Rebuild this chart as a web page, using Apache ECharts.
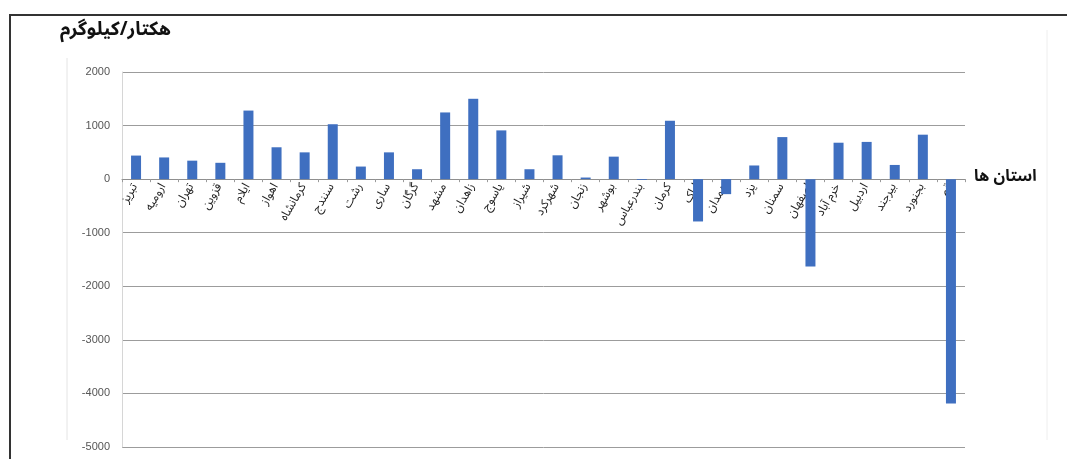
<!DOCTYPE html>
<html>
<head>
<meta charset="utf-8">
<script src="https://cdn.jsdelivr.net/npm/echarts@6/dist/echarts.min.js"></script>
<style>
  html, body { margin: 0; padding: 0; background: #fff; }
  #main { width: 1067px; height: 459px; }
</style>
</head>
<body>
<div id="main"></div>
<script>
// استان ها (categories)
const cities = ['تبریز', 'ارومیه', 'تهران', 'قزوین', 'ایلام', 'اهواز', 'کرمانشاه', 'سنندج', 'رشت', 'ساری',
    'گرگان', 'مشهد', 'زاهدان', 'یاسوج', 'شیراز', 'شهرکرد', 'زنجان', 'بوشهر', 'بندرعباس', 'کرمان',
    'اراک', 'همدان', 'یزد', 'سمنان', 'اصفهان', 'خرم آباد', 'اردبیل', 'بیرجند', 'بجنورد', 'قم'];
// هکتار/کیلوگرم
const values = [440, 405, 345, 305, 1280, 595, 500, 1025, 235, 500,
    185, 1245, 1500, 910, 185, 445, 30, 420, -15, 1090,
    -790, -280, 255, 785, -1630, 680, 695, 265, 830, -4190];
const yTicks = { min: -5000, max: 2000, step: 1000 };

const faFont = '"Noto Sans Arabic", "DejaVu Sans", sans-serif';
const numFont = '"Liberation Sans Narrow", "Liberation Sans", Arial, sans-serif';

const gridTop = 72, gridBottom = 12;
const gridH = 459 - gridTop - gridBottom;
// distance of the zero line from the bottom of the grid
const zeroFromBottom = gridH * (0 - yTicks.min) / (yTicks.max - yTicks.min);

var chart = echarts.init(document.getElementById('main'));

var option = {
    animation: false,
    backgroundColor: '#fff',
    grid: { left: 122, right: 102, top: gridTop, bottom: gridBottom, containLabel: false },
    xAxis: {
        type: 'category',
        data: cities,
        position: 'bottom',
        offset: -zeroFromBottom,
        axisLine: { onZero: false, lineStyle: { color: '#8f8f8f', width: 1 } },
        axisTick: { show: true, length: 3, lineStyle: { color: '#9a9a9a' } },
        axisLabel: {
            interval: 0,
            rotate: 60,
            margin: 6,
            fontSize: 12,
            color: '#222',
            fontFamily: faFont
        },
        splitLine: { show: false }
    },
    yAxis: {
        type: 'value',
        min: yTicks.min,
        max: yTicks.max,
        interval: yTicks.step,
        axisLine: { show: true, lineStyle: { color: '#d6d6d6' } },
        axisTick: { show: false },
        axisLabel: {
            fontSize: 11, color: '#555', margin: 12, fontFamily: numFont,
            formatter: function (v) { return String(v); }
        },
        splitLine: { lineStyle: { color: '#9c9c9c', width: 1 } }
    },
    series: [{
        type: 'bar',
        data: values,
        barWidth: 10,
        itemStyle: { color: '#3f6fc0' }
    }],
    graphic: [
        // outer frame
        { type: 'rect', shape: { x: 10, y: 15, width: 1070, height: 460 },
          style: { fill: 'none', stroke: '#333', lineWidth: 2 }, silent: true },
        // faint chart-area edges
        { type: 'line', shape: { x1: 67, y1: 58, x2: 67, y2: 440 },
          style: { stroke: '#e4e4e4', lineWidth: 1 }, silent: true },
        { type: 'line', shape: { x1: 1047, y1: 30, x2: 1047, y2: 440 },
          style: { stroke: '#eeeeee', lineWidth: 1 }, silent: true },
        { type: 'text', left: 60, top: 23,
          style: { text: 'هکتار/کیلوگرم', font: 'bold 19px ' + faFont, fill: '#111' } },
        { type: 'text', left: 974, top: 171,
          style: { text: 'استان ها', font: 'bold 16px ' + faFont, fill: '#111' } }
    ]
};

chart.setOption(option);
</script>
</body>
</html>
